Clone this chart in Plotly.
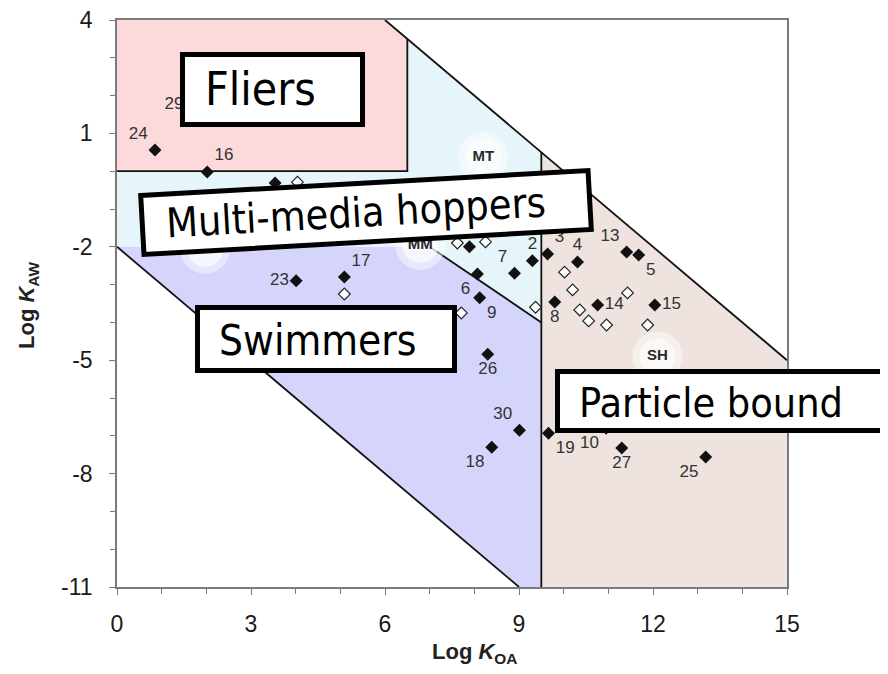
import math
import plotly.graph_objects as go

# ---------------- data ----------------
filled_labels = ["24", "16", "29", "23", "17", "2", "7", "6", "9", "3", "4", "13", "5",
                 "8", "14", "15", "26", "30", "18", "19", "10", "27", "25"]
filled_x = [0.85, 2.02, 1.65, 4.01, 5.09, 9.30, 8.90, 8.07, 8.12, 9.64, 10.31, 11.41, 11.68,
            9.80, 10.76, 12.04, 8.30, 9.01, 8.39, 9.66, 10.95, 11.30, 13.18]
filled_y = [0.56, -0.02, 1.75, -2.90, -2.80, -2.37, -2.70, -2.72, -3.35, -2.19, -2.40, -2.14, -2.22,
            -3.46, -3.54, -3.54, -4.84, -6.85, -7.30, -6.93, -6.80, -7.32, -7.56]
label_pos = ["top left", "top right", "middle left", "middle left", "top right", "top center",
             "top left", "bottom left", "bottom right", "top right", "top center", "top left",
             "bottom right", "bottom center", "middle right", "middle right", "bottom center",
             "top left", "bottom left", "bottom right", "bottom left", "bottom center", "bottom left"]

extra_filled_x = [7.89, 3.54]
extra_filled_y = [-2.00, -0.31]

open_x = [4.04, 5.09, 7.62, 8.25, 7.71, 9.37, 10.02, 10.20, 10.36, 10.56, 10.96, 11.43, 11.88]
open_y = [-0.29, -3.25, -1.90, -1.87, -3.75, -3.60, -2.67, -3.14, -3.67, -3.96, -4.07, -3.22, -4.07]

region_tags = ["MT", "MM", "SH", ""]
region_tag_x = [8.20, 6.79, 12.10, 1.97]
region_tag_y = [0.38, -1.95, -4.90, -2.05]

fliers_x = [0, 0, 6, 6.5, 6.5]
fliers_y = [0, 4, 4, 3.5, 0]
hopper_x = [0, 6.5, 6.5, 9.5, 9.5, 7, 0]
hopper_y = [0, 0, 3.5, 0.5, -4, -2, -2]
swim_x = [0, 7, 9.5, 9.5, 9]
swim_y = [-2, -2, -4, -11, -11]
part_x = [9.5, 15, 15, 9.5]
part_y = [0.5, -5, -11, -11]

border_x = [6, 15, None, 6.5, 6.5, 0, None, 9.5, 9.5, None, 0, 9, None, 7, 9.5]
border_y = [4, -5, None, 3.5, 0, 0, None, 0.5, -11, None, -2, -11, None, -2, -4]

x_tick_vals = [0, 3, 6, 9, 12, 15]
x_tick_text = ["0", "3", "6", "9", "12", "15"]
y_tick_vals = [4, 1, -2, -5, -8, -11]
y_tick_text = ["4", "1", "-2", "-5", "-8", "-11"]

# ---------------- layout helpers ----------------
OFF = 8                       # page body margin
W, H = 888 - OFF, 674 - OFF   # figure size
L, R, T, B = 117, 787, 20, 587  # plot area in page pixels


def px(xp):
    return (xp - L) / (R - L)


def py(yp):
    return (B - yp) / (B - T)


fig = go.Figure()

region_colors = ["#FCD9DA", "#E6F5FA", "#D5D5FB", "#EEE3DE"]
for rx, ry, col in zip([fliers_x, hopper_x, swim_x, part_x],
                       [fliers_y, hopper_y, swim_y, part_y], region_colors):
    fig.add_trace(go.Scatter(x=rx, y=ry, fill="toself", fillcolor=col, mode="none",
                             hoverinfo="skip", showlegend=False))

fig.add_trace(go.Scatter(x=border_x, y=border_y, mode="lines",
                         line=dict(color="#111111", width=1.8), hoverinfo="skip",
                         showlegend=False))

# white glow behind the region tags
fig.add_trace(go.Scatter(x=region_tag_x, y=region_tag_y, mode="markers",
                         marker=dict(size=50, color="white", opacity=0.45, line=dict(width=0)),
                         hoverinfo="skip", showlegend=False))
fig.add_trace(go.Scatter(x=region_tag_x, y=region_tag_y, mode="markers+text",
                         text=region_tags, textposition="middle center",
                         textfont=dict(family="Liberation Sans, Arial", size=15, color="#2a2a2a",
                                       weight="bold"),
                         marker=dict(size=36, color="white", opacity=0.6, line=dict(width=0)),
                         hoverinfo="skip", showlegend=False))

fig.add_trace(go.Scatter(x=open_x, y=open_y, mode="markers",
                         marker=dict(symbol="diamond", size=9, color="white",
                                     line=dict(color="#222222", width=1.2)),
                         showlegend=False))
fig.add_trace(go.Scatter(x=extra_filled_x, y=extra_filled_y, mode="markers",
                         marker=dict(symbol="diamond", size=10, color="#111111"),
                         showlegend=False))
fig.add_trace(go.Scatter(x=filled_x, y=filled_y, mode="markers+text",
                         text=filled_labels, textposition=label_pos,
                         textfont=dict(family="Liberation Sans, Arial", size=17, color="#333333"),
                         marker=dict(symbol="diamond", size=10, color="#111111"),
                         showlegend=False))

# ---------------- label boxes ----------------
box_line = dict(color="black", width=5)
shapes = []


def rect(x0, y0, x1, y1):
    shapes.append(dict(type="rect", xref="paper", yref="paper",
                       x0=px(x0), x1=px(x1), y0=py(y1), y1=py(y0),
                       line=box_line, fillcolor="white", layer="above"))


rect(182.5, 54.5, 362.5, 124.5)      # Fliers
rect(197.5, 307.5, 454.5, 370.5)     # Swimmers
rect(557.5, 371.5, 910, 430.5)       # Particle bound

# rotated box for Multi-media hoppers
cx, cy, bw, bh, ang = 366, 212.5, 448, 59, 3.2
th = math.radians(ang)
u = (math.cos(th), -math.sin(th))
v = (math.sin(th), math.cos(th))
corners = []
for su, sv in [(-1, -1), (1, -1), (1, 1), (-1, 1)]:
    corners.append((cx + su * bw / 2 * u[0] + sv * bh / 2 * v[0],
                    cy + su * bw / 2 * u[1] + sv * bh / 2 * v[1]))
path = "M " + " L ".join(f"{px(a):.5f},{py(b):.5f}" for a, b in corners) + " Z"
shapes.append(dict(type="path", xref="paper", yref="paper", path=path,
                   line=box_line, fillcolor="white", layer="above"))

box_font = "DejaVu Sans Condensed, DejaVu Sans, Verdana"
annotations = [
    dict(text="Fliers", x=px(203), y=py(89), xanchor="left", yanchor="middle",
         font=dict(family=box_font, size=46, color="black")),
    dict(text="Multi-media hoppers", x=px(356), y=py(213), xanchor="center", yanchor="middle",
         textangle=-ang, font=dict(family=box_font, size=41, color="black")),
    dict(text="Swimmers", x=px(217), y=py(340), xanchor="left", yanchor="middle",
         font=dict(family=box_font, size=42, color="black")),
    dict(text="Particle bound", x=px(577), y=py(403), xanchor="left", yanchor="middle",
         font=dict(family=box_font, size=41, color="black")),
    dict(text="<b>Log <i>K</i><sub>OA</sub></b>", x=px(474), y=py(653), xanchor="center",
         yanchor="middle", font=dict(family="Liberation Sans, Arial", size=22, color="#222222")),
    dict(text="<b>Log <i>K</i><sub>AW</sub></b>", x=px(28), y=py(305), xanchor="center",
         yanchor="middle", textangle=-90,
         font=dict(family="Liberation Sans, Arial", size=22, color="#222222")),
]
for a in annotations:
    a.update(xref="paper", yref="paper", showarrow=False)

axis_common = dict(showgrid=False, zeroline=False, showline=True, linecolor="#7a7a7a",
                   linewidth=1.5, mirror=True, ticks="outside", ticklen=6, tickwidth=1,
                   tickcolor="#7a7a7a", automargin=False, ticklabeloverflow="allow",
                   tickfont=dict(family="Liberation Sans, Arial", size=23, color="#1a1a1a"),
                   minor=dict(dtick=1, ticks="outside", ticklen=5, tickcolor="#7a7a7a",
                              showgrid=False))

fig.update_layout(
    width=W, height=H,
    margin=dict(l=L - OFF, r=(W + OFF) - R, t=T - OFF, b=(H + OFF) - B),
    paper_bgcolor="white", plot_bgcolor="white", showlegend=False,
    xaxis=dict(range=[0, 15], tickmode="array", tickvals=x_tick_vals, ticktext=x_tick_text,
               ticklabelstandoff=10, **axis_common),
    yaxis=dict(range=[-11, 4], tickmode="array", tickvals=y_tick_vals, ticktext=y_tick_text,
               ticklabelstandoff=12, **axis_common),
    shapes=shapes, annotations=annotations,
)
fig.update_xaxes(minor=dict(tick0=0))
fig.update_yaxes(minor=dict(tick0=-11))

fig.write_html("out.html")
